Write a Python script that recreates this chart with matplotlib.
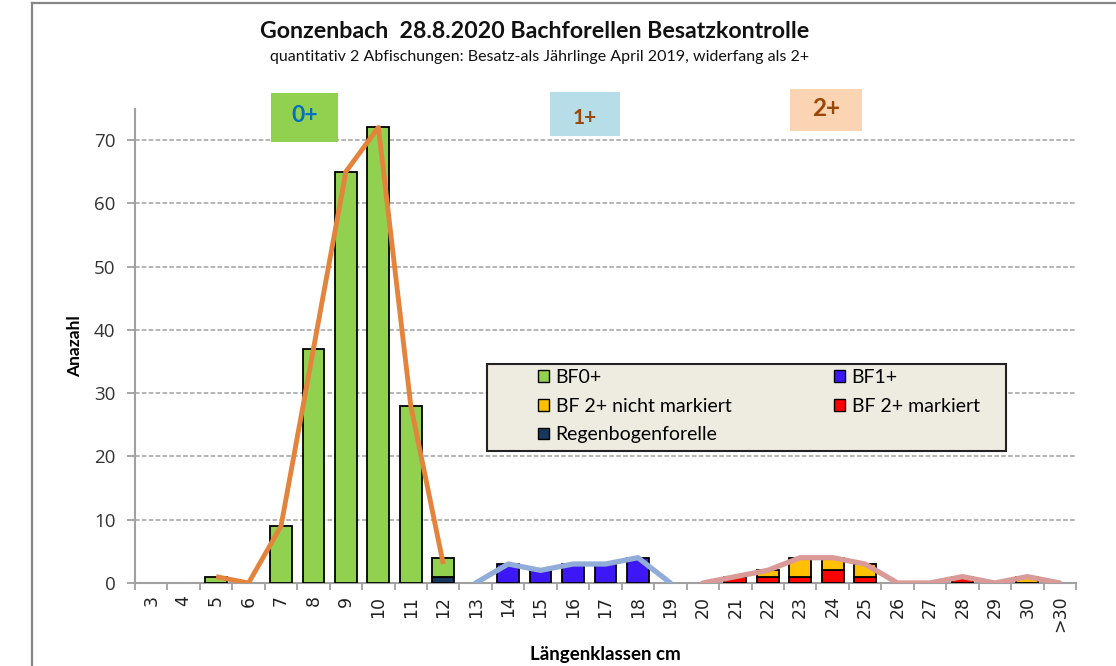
import numpy as np
import matplotlib
matplotlib.use('Agg')
import matplotlib.pyplot as plt
from matplotlib.patches import Rectangle, Patch
from matplotlib.lines import Line2D

plt.rcParams['font.family'] = ['Lato', 'DejaVu Sans']

# Längenklassen
klassen = [str(k) for k in range(3, 31)] + ['>30']

# Anzahl je Klasse (3 .. 30, >30)
bf0 = [0, 0, 1, 0, 9, 37, 65, 72, 28, 3, 0, 0, 0, 0, 0, 0, 0, 0, 0, 0, 0, 0, 0, 0, 0, 0, 0, 0, 0]
bf1 = [0, 0, 0, 0, 0, 0, 0, 0, 0, 0, 0, 3, 2, 3, 3, 4, 0, 0, 0, 0, 0, 0, 0, 0, 0, 0, 0, 0, 0]
bf2_nicht = [0, 0, 0, 0, 0, 0, 0, 0, 0, 0, 0, 0, 0, 0, 0, 0, 0, 0, 0, 1, 3, 2, 2, 0, 0, 0, 0, 1, 0]
bf2_mark = [0, 0, 0, 0, 0, 0, 0, 0, 0, 0, 0, 0, 0, 0, 0, 0, 0, 0, 1, 1, 1, 2, 1, 0, 0, 1, 0, 0, 0]
regenbogen = [0, 0, 0, 0, 0, 0, 0, 0, 0, 1, 0, 0, 0, 0, 0, 0, 0, 0, 0, 0, 0, 0, 0, 0, 0, 0, 0, 0, 0]

# Linien je Altersklasse (NaN = keine Linie)
n = np.nan
linie0 = [n, n, 1, 0, 9, 37, 65, 72, 28, 3, n, n, n, n, n, n, n, n, n, n, n, n, n, n, n, n, n, n, n]
linie1 = [n, n, n, n, n, n, n, n, n, n, 0, 3, 2, 3, 3, 4, 0, n, n, n, n, n, n, n, n, n, n, n, n]
linie2 = [n, n, n, n, n, n, n, n, n, n, n, n, n, n, n, n, n, 0, 1, 2, 4, 4, 3, 0, 0, 1, 0, 1, 0]

W, H = 1116, 666
fig = plt.figure(figsize=(W / 100, H / 100), dpi=100)
ax = fig.add_axes([135 / W, 1 - 583 / H, (1076 - 135) / W, (583 - 109) / H])

x = np.arange(len(klassen))
rb = np.array(regenbogen)
b0 = np.array(bf0)
b1 = np.array(bf1)
red = np.array(bf2_mark)
ora = np.array(bf2_nicht)


def balken(werte, unten, farbe):
    m = werte > 0  # leere Klassen nicht zeichnen
    ax.bar(x[m], werte[m], bottom=unten[m], width=0.67, color=farbe,
           edgecolor='black', linewidth=1.3, zorder=3)


null = np.zeros(len(x))
balken(rb, null, '#17375e')
balken(b0, rb, '#92d050')
balken(b1, null, '#3d17f5')
balken(red, null, '#ff0000')
balken(ora, red, '#ffc000')

ax.plot(x, linie0, color='#e4843c', lw=3.5, zorder=4, solid_capstyle='butt')
ax.plot(x, linie1, color='#91acd8', lw=3.8, zorder=4, solid_capstyle='round')
ax.plot(x, linie2, color='#d99a98', lw=3.8, zorder=4, solid_capstyle='round')

ax.set_xlim(-0.5, len(klassen) - 0.5)
ax.set_ylim(0, 74.9)
ax.set_yticks(range(0, 71, 10))
ax.yaxis.grid(True, linestyle=(0, (3, 1.5)), color='#a0a0a0', lw=1.1, zorder=0)
ax.set_axisbelow(True)

ax.set_xticks(np.arange(-0.5, len(klassen), 1))
ax.set_xticklabels([])
ax.set_xticks(x, minor=True)
ax.set_xticklabels(klassen, minor=True, rotation=90, fontsize=12.5,
                   fontfamily=['DejaVu Sans'], color='#222222')
ax.tick_params(axis='x', which='minor', length=0, pad=9)
ax.tick_params(axis='x', which='major', length=5, width=1.3, color='#a0a0a0', direction='out')
ax.tick_params(axis='y', length=6, width=1.3, color='#a0a0a0', labelsize=13.5, pad=8,
               labelcolor='#333333')
for lab in ax.get_yticklabels():
    lab.set_fontfamily(['Open Sans', 'DejaVu Sans'])

for s in ['top', 'right']:
    ax.spines[s].set_visible(False)
for s in ['left', 'bottom']:
    ax.spines[s].set_color('#a0a0a0')
    ax.spines[s].set_linewidth(1.5)

ax.set_ylabel('Anazahl', fontsize=12.5, fontweight='bold', labelpad=8)
ax.set_xlabel('Längenklassen cm', fontsize=13.5, fontweight='bold', labelpad=10)

# Titel
fig.text(535 / W, 1 - 32 / H, 'Gonzenbach  28.8.2020 Bachforellen Besatzkontrolle',
         ha='center', va='center', fontsize=16.7, fontweight='bold', color='#111111')
fig.text(540 / W, 1 - 57 / H,
         'quantitativ 2 Abfischungen: Besatz-als Jährlinge April 2019, widerfang als 2+',
         ha='center', va='center', fontsize=11.5, color='#111111')

# Rahmen des Diagrammbereichs
fig.add_artist(Line2D([32 / W, 32 / W], [0, 1 - 3 / H], color='#868686', lw=1.6))
fig.add_artist(Line2D([32 / W, 1], [1 - 3 / H, 1 - 3 / H], color='#868686', lw=1.6))


# Altersklassen-Kästchen
def box(x0, x1, y0, y1, fc, txt, tc, ty, fs):
    fig.add_artist(Rectangle((x0 / W, 1 - y1 / H), (x1 - x0) / W, (y1 - y0) / H,
                             facecolor=fc, edgecolor='none', zorder=5))
    fig.text((x0 + x1) / 2 / W, 1 - ty / H, txt, ha='center', va='center',
             fontsize=fs, fontweight='bold', color=tc, zorder=6)


box(271, 338, 93, 142, '#92d050', '0+', '#0070c0', 116, 16.5)
box(550, 620, 92, 136, '#b7dee8', '1+', '#984807', 118, 15)
box(790, 862, 89, 131, '#fbd4b4', '2+', '#984807', 108, 17.5)

# Legende
fig.add_artist(Rectangle((487 / W, 1 - 451 / H), (1006 - 487) / W, (451 - 364) / H,
                         facecolor='#eeece1', edgecolor='#222222', lw=1.5, zorder=5))
h = lambda c: Patch(facecolor=c, edgecolor='black', linewidth=1.0)
lkw = dict(frameon=False, fontsize=14, handlelength=0.55, handleheight=0.55,
           handletextpad=0.35, labelspacing=0.6, borderpad=0, borderaxespad=0)
leg1 = fig.legend([h('#92d050'), h('#ffc000'), h('#17375e')],
                  ['BF0+', 'BF 2+ nicht markiert', 'Regenbogenforelle'],
                  loc='upper left', bbox_to_anchor=(538 / W, 1 - 369 / H), **lkw)
leg1.set_zorder(6)
leg2 = fig.legend([h('#3d17f5'), h('#ff0000')],
                  ['BF1+', 'BF 2+ markiert'],
                  loc='upper left', bbox_to_anchor=(834 / W, 1 - 369 / H), **lkw)
leg2.set_zorder(6)

fig.savefig('out.png', dpi=100)
